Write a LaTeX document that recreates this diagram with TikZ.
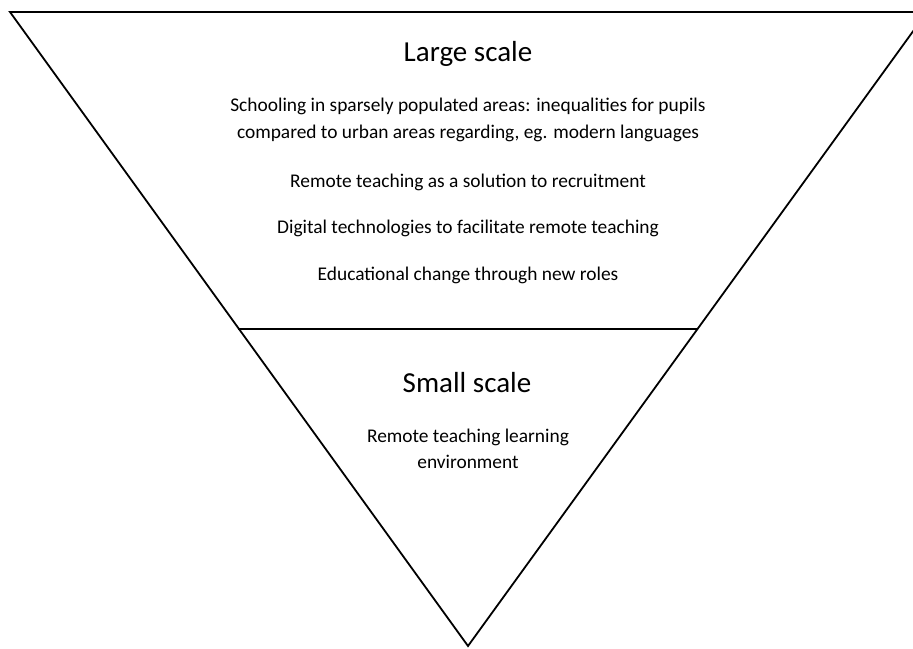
\documentclass[tikz,border=0pt]{standalone}
\usepackage{fontspec}
\setmainfont{Carlito}
\tikzset{
  head/.style={inner sep=0pt,font=\fontsize{29}{34}\selectfont},
  item/.style={inner sep=0pt,align=center,font=\fontsize{19.4}{26.5}\selectfont}
}

\begin{document}
\begin{tikzpicture}[x=1pt,y=-1pt,line width=1.8pt]
    \useasboundingbox (0,0) rectangle (913,648);
    \clip (0,0) rectangle (913,648);
    \coordinate (L) at (10,12);
    \coordinate (R) at (927,12);
    \coordinate (T) at (468,646);
    
    \draw [line join=miter] (L) -- (R) -- (T) -- cycle;
    \draw (238,329) -- (698,329);
    
    \node [head] (large) at (468,54) {Large scale};
    \node [item] (school) at (468,120) {Schooling in sparsely populated areas: inequalities for pupils\\compared to urban areas regarding, eg. modern languages};
    \node [item] (recruit) at (468,182) {Remote teaching as a solution to recruitment};
    \node [item] (digital) at (468,228) {Digital technologies to facilitate remote teaching};
    \node [item] (change) at (468,275) {Educational change through new roles};
    
    \node [head] (small) at (467,383) {Small scale};
    \node [item] (env) at (468,449) {Remote teaching learning\\environment};
  \end{tikzpicture}
\end{document}
